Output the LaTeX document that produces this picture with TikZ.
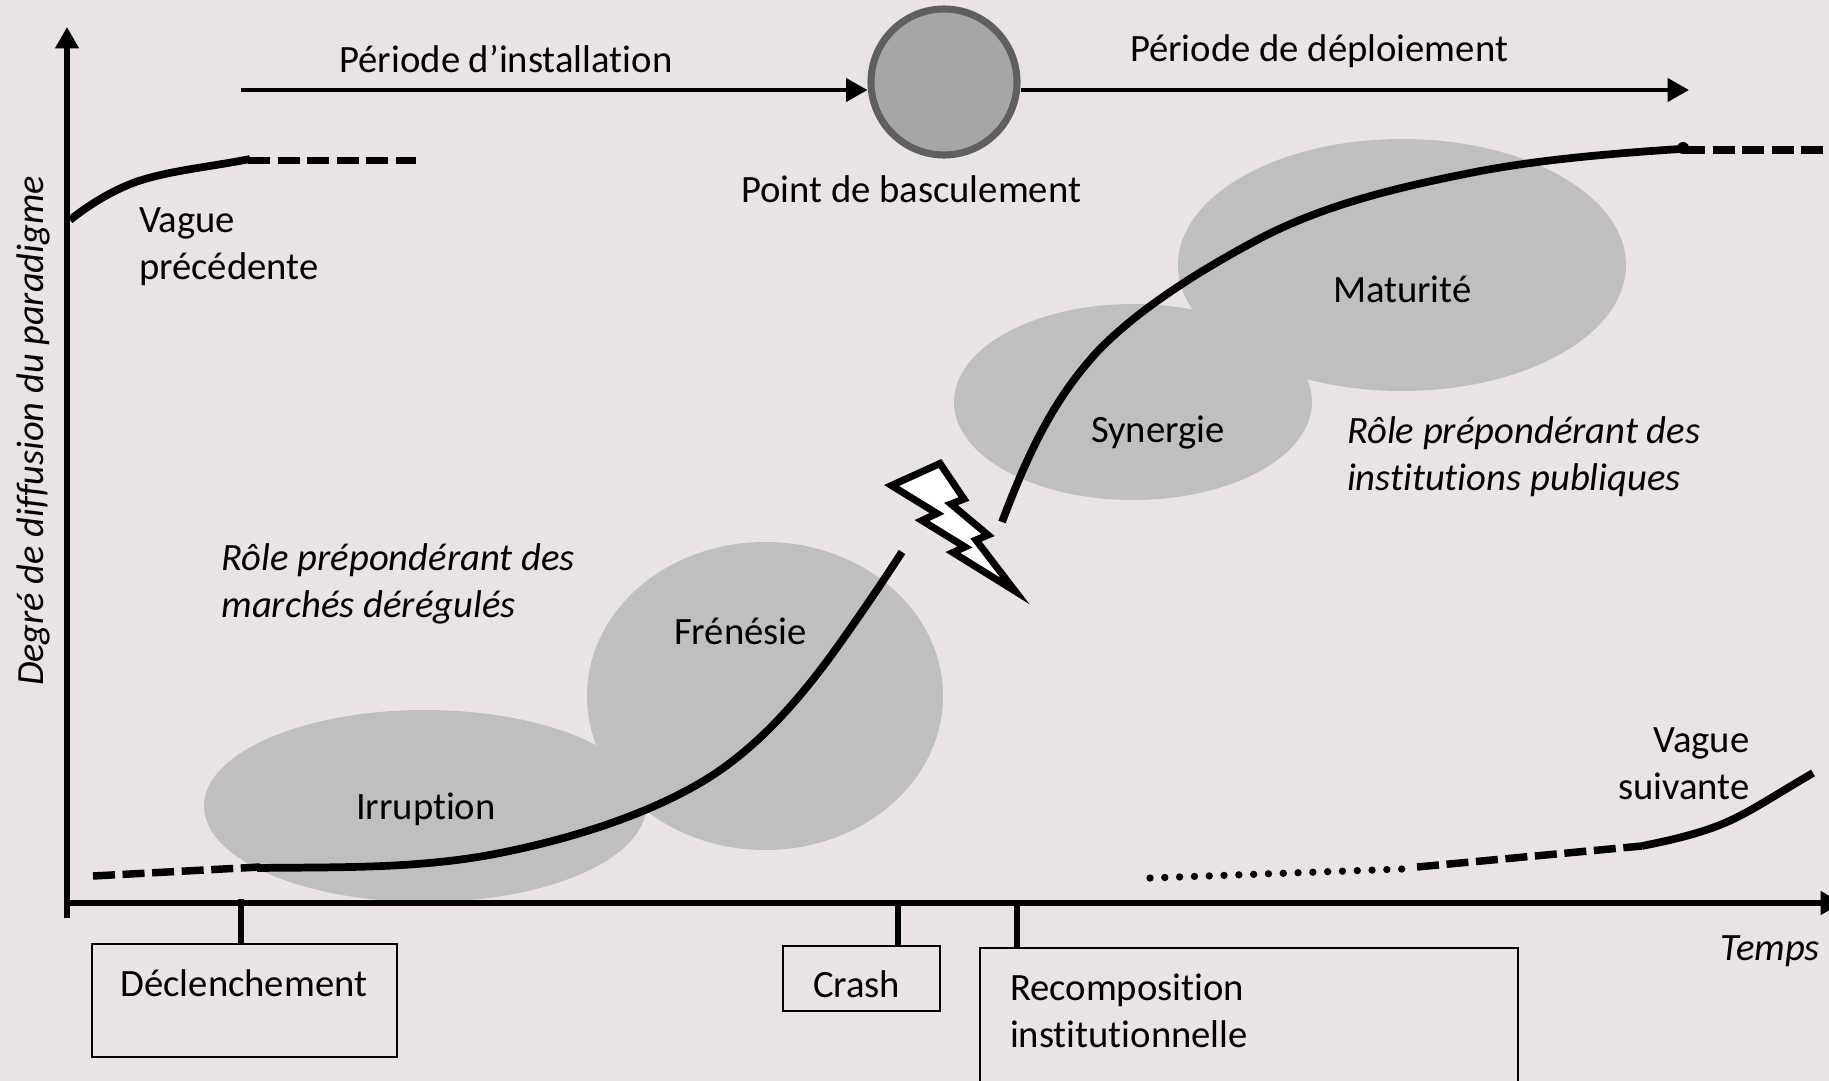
\documentclass[tikz,border=0pt]{standalone}
\usepackage{fontspec}
\setmainfont{Carlito}[Ligatures=NoCommon]
\usetikzlibrary{arrows.meta}
\definecolor{bgc}{HTML}{E9E3E3}
\definecolor{blobc}{HTML}{BFBFBF}
\definecolor{pivotfill}{HTML}{A6A6A6}
\definecolor{pivotline}{HTML}{5F5F5F}
\tikzset{
  lbl/.style={anchor=base west,inner sep=0pt,outer sep=0pt,align=left,font=\fontsize{29}{35.2}\selectfont},
  ilbl/.style={lbl,font=\fontsize{29}{35.2}\selectfont\itshape},
  axisline/.style={line width=3.8pt,-{Triangle[length=16pt,width=17pt]}},
  flowline/.style={line width=3.6pt,-{Triangle[length=16pt,width=17pt]}},
  wave/.style={line width=5.8pt,line join=round},
  wavedash/.style={line width=5.6pt,dash pattern=on 16.5pt off 5.7pt},
  wavedot/.style={line width=5.5pt,line cap=round,dash pattern=on 0.01pt off 11.1pt},
  tick/.style={line width=3.8pt},
  boxed/.style={draw=black,line width=2pt,fill=none,minimum width=0pt,inner sep=0pt},
  phase/.style={fill=blobc,draw=none},
}
\begin{document}
\begin{tikzpicture}[x=0.75pt,y=-0.75pt]
\useasboundingbox (0,0) rectangle (1829,1081);
\fill[bgc] (0,0) rectangle (1829,1081);
\clip (0,0) rectangle (1829,1081);
% phases
\fill[phase] (425,806) ellipse [x radius=221,y radius=96];
\fill[phase] (765,696) ellipse [x radius=178,y radius=154];
\fill[phase] (1133,402) ellipse [x radius=179,y radius=98];
\fill[phase] (1402,265) ellipse [x radius=224,y radius=126];
% axes
\coordinate (origin) at (67,903);
\coordinate (ybot) at (67,918);
\coordinate (ytop) at (67,27);
\coordinate (xend) at (1842,903);
\draw[axisline] (ybot) -- (ytop);
\draw[axisline] (65,903) -- (xend);
% top flow
\node[circle,minimum size=146*0.75pt,inner sep=0pt,fill=pivotfill,draw=pivotline,line width=5.3pt] (pivot) at (944,82) {};
\coordinate (flowA) at (241,90);
\coordinate (flowB) at (1689,90);
\draw[flowline] (flowA) -- (pivot.west |- flowA);
\draw[flowline] (pivot.east |- flowA) -- (flowB);
% waves
\draw[wave] (70,220) .. controls (90,204) and (112,191) .. (133,183) .. controls (165,171) and (210,167) .. (250,159);
\draw[wavedash] (248,160.7) -- (416,160.7);
\draw[wavedash] (93,876) -- (260,867);
\draw[wave] (257,868) .. controls (340,867) and (420,869) .. (500,853)
  .. controls (565,840) and (640,818) .. (700,783)
  .. controls (750,754) and (793,708) .. (833,653)
  .. controls (856,621) and (880,586) .. (902,552);
\draw[wave] (1002,522) .. controls (1030,448) and (1055,398) .. (1097,352)
  .. controls (1135,312) and (1195,273) .. (1257,240)
  .. controls (1325,204) and (1400,187) .. (1470,173)
  .. controls (1540,159) and (1620,153) .. (1680,149);
\fill (1683,148) circle [radius=6];
\draw[wavedash] (1683,150) -- (1824,150);
\draw[wavedot] (1150,878) -- (1403,869);
\draw[wavedash] (1417,867) -- (1642,846);
\draw[wave] (1642,846) .. controls (1672,840) and (1702,833) .. (1727,822)
  .. controls (1752,811) and (1780,792) .. (1813,773);
% bolt
\draw[fill=white,draw=black,line width=5.3pt,miter limit=20,line join=miter]
  (891.5,485.5) -- (940,463.5) -- (964,499) -- (951,504) -- (988,535) -- (976,540) -- (1015,591) -- (953,552.5) -- (965,547) -- (922,520.5) -- (937,513.5) -- cycle;
% boxes
\node[boxed,minimum width=305*0.75pt,minimum height=113*0.75pt] (boxD) at (244.5,1000.5) {};
\node[boxed,minimum width=157*0.75pt,minimum height=65*0.75pt] (boxC) at (861.5,978.5) {};
\node[boxed,minimum width=538*0.75pt,minimum height=142*0.75pt] (boxR) at (1249,1019) {};
% ticks
\coordinate (tickD) at (241,899);
\coordinate (tickC) at (898,903);
\coordinate (tickR) at (1017,903);
\draw[tick] (tickD) -- (tickD |- boxD.north);
\draw[tick] (tickC) -- (tickC |- boxC.north);
\draw[tick] (tickR) -- (tickR |- boxR.north);
% labels
\node[lbl] (tInst) at (339.5,73) {Période d’installation};
\node[lbl] (tDepl) at (1130,61.5) {Période de déploiement};
\node[lbl] (tPoint) at (741,202) {Point de basculement};
\node[lbl] (tPrec) at (139,279.5) {Vague\\précédente};
\node[lbl] (tMat) at (1333,302.5) {Maturité};
\node[lbl] (tSyn) at (1091,442) {Synergie};
\node[ilbl] (tPub) at (1347,490.5) {Rôle prépondérant des\\institutions publiques};
\node[ilbl] (tMar) at (221.5,617.5) {Rôle prépondérant des\\marchés dérégulés};
\node[lbl] (tFre) at (674,644.5) {Frénésie};
\node[lbl] (tIrr) at (356,819.5) {Irruption};
\node[lbl,align=right] (tSuiv) at (1618,799) {Vague\\suivante};
\node[ilbl] (tTemps) at (1720.5,960) {Temps};
\node[lbl] (tDec) at (120.5,996) {Déclenchement};
\node[lbl] (tCrash) at (813,997) {Crash};
\node[lbl] (tRec) at (1010,1047) {Recomposition\\institutionnelle};
\node[ilbl,rotate=90,anchor=base,font=\fontsize{28.8}{35}\selectfont\itshape] (tDeg) at (43,431) {Degré de diffusion du paradigme};
\end{tikzpicture}
\end{document}
